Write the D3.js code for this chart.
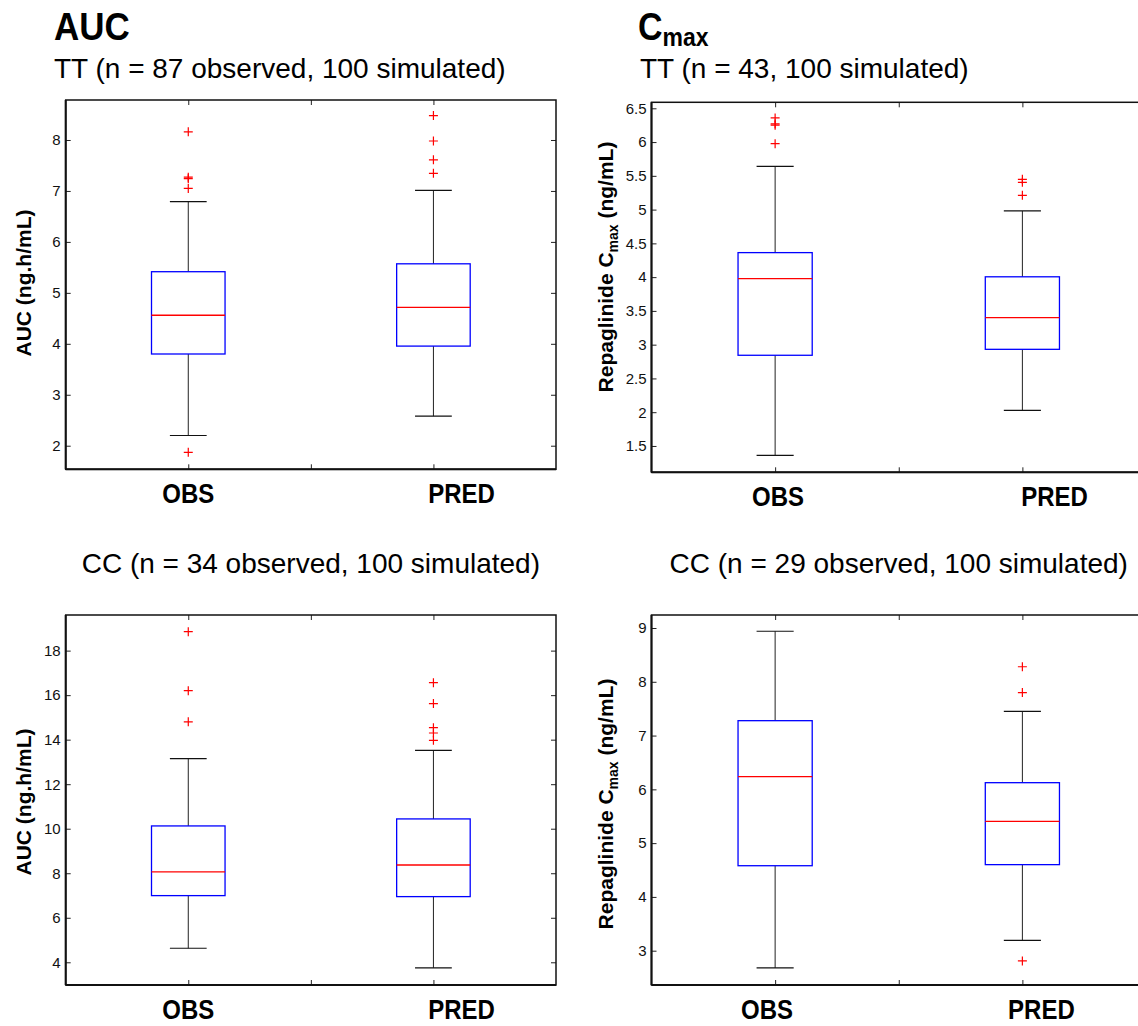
<!DOCTYPE html>
<html>
<head>
<meta charset="utf-8">
<script src="https://cdn.jsdelivr.net/npm/d3@7"></script>
<style>
  html, body { margin: 0; padding: 0; background: #fff; }
  svg { display: block; font-family: "Liberation Sans", Arial, Helvetica, sans-serif; }
</style>
</head>
<body>
<svg id="chart" width="1138" height="1026"></svg>
<script>
// ---------------- DATA ----------------
const categories = ["OBS", "PRED"];

// box statistics per category: [lower whisker, Q1, median, Q3, upper whisker]
const aucTTStats  = [[2.20, 3.80, 4.56, 5.415, 6.79], [2.58, 3.955, 4.715, 5.57, 7.01]];
const aucTTOut    = [[8.16, 7.27, 7.24, 7.05, 1.87], [8.48, 7.98, 7.61, 7.345]];
const aucTTTicks  = [2, 3, 4, 5, 6, 7, 8];

const cmaxTTStats = [[1.362, 2.843, 3.978, 4.363, 5.641], [2.028, 2.931, 3.40, 4.005, 4.98]];
const cmaxTTOut   = [[6.357, 6.27, 6.25, 5.977], [5.449, 5.404, 5.212]];
const cmaxTTTicks = [1.5, 2, 2.5, 3, 3.5, 4, 4.5, 5, 5.5, 6, 6.5];

const aucCCStats  = [[4.63, 6.995, 8.058, 10.125, 13.15], [3.75, 6.95, 8.37, 10.44, 13.52]];
const aucCCOut    = [[18.85, 16.20, 14.80], [16.56, 15.62, 14.54, 14.30, 13.97]];
const aucCCTicks  = [4, 6, 8, 10, 12, 14, 16, 18];

const cmaxCCStats = [[2.68, 4.58, 6.236, 7.277, 8.94], [3.19, 4.60, 5.405, 6.124, 7.45]];
const cmaxCCOut   = [[], [8.28, 7.80, 2.81]];
const cmaxCCTicks = [3, 4, 5, 6, 7, 8, 9];

const titleAUC = "AUC";
const subTTAuc  = "TT (n = 87 observed, 100 simulated)";
const subTTCmax = "TT (n = 43, 100 simulated)";
const subCCAuc  = "CC (n = 34 observed, 100 simulated)";
const subCCCmax = "CC (n = 29 observed, 100 simulated)";

// ---------------- LAYOUT ----------------
const svg = d3.select("#chart");
const FONT = '"Liberation Sans", Arial, Helvetica, sans-serif';

const panels = [
  { stats: aucTTStats, out: aucTTOut, ticks: aucTTTicks, yDomain: [1.537, 8.785],
    x0: 65.7, x1: 556, y0: 100, y1: 469.3, ylab: "auc", ylabX: 31, ylabY: 283,
    labPos: [1.0, 2.115], labBase: 503 },
  { stats: cmaxTTStats, out: cmaxTTOut, ticks: cmaxTTTicks, yDomain: [1.11, 6.589],
    x0: 651.5, x1: 1146, y0: 102.3, y1: 472.3, ylab: "cmax", ylabX: 613, ylabY: 267,
    labPos: [1.012, 2.13], labBase: 506 },
  { stats: aucCCStats, out: aucCCOut, ticks: aucCCTicks, yDomain: [2.98, 19.6],
    x0: 65.7, x1: 556, y0: 615, y1: 985, ylab: "auc", ylabX: 31, ylabY: 802,
    labPos: [1.0, 2.115], labBase: 1019 },
  { stats: cmaxCCStats, out: cmaxCCOut, ticks: cmaxCCTicks, yDomain: [2.362, 9.242],
    x0: 651.5, x1: 1146, y0: 615, y1: 985, ylab: "cmax", ylabX: 613, ylabY: 804,
    labPos: [0.967, 2.077], labBase: 1019 }
];

panels.forEach(p => {
  const x = d3.scaleLinear().domain([0.5, 2.5]).range([p.x0, p.x1]);
  const y = d3.scaleLinear().domain(p.yDomain).range([p.y1, p.y0]);
  const g = svg.append("g");

  // axes with inward ticks
  const yl = d3.axisLeft(y).tickValues(p.ticks).tickSize(-5).tickPadding(5).tickFormat(d => String(d));
  const yr = d3.axisRight(y).tickValues(p.ticks).tickSize(-5).tickFormat("");
  const xb = d3.axisBottom(x).tickValues([1, 1.5, 2]).tickSize(-5).tickFormat("");
  const xt = d3.axisTop(x).tickValues([1, 1.5, 2]).tickSize(-5).tickFormat("");

  const ga = g.append("g").attr("transform", `translate(${p.x0},0)`).call(yl);
  g.append("g").attr("transform", `translate(${p.x1},0)`).call(yr);
  g.append("g").attr("transform", `translate(0,${p.y1})`).call(xb);
  g.append("g").attr("transform", `translate(0,${p.y0})`).call(xt);
  g.selectAll(".domain").remove();
  g.selectAll(".tick line").attr("stroke", "#222").attr("stroke-width", 1);
  ga.selectAll(".tick text").attr("font-size", 15).attr("font-family", FONT).attr("fill", "#111");

  // frame
  g.append("rect").attr("x", p.x0).attr("y", p.y0).attr("width", p.x1 - p.x0).attr("height", p.y1 - p.y0)
    .attr("fill", "none").attr("stroke", "#111").attr("stroke-width", 1.5);
  g.append("line").attr("x1", p.x0).attr("x2", p.x1).attr("y1", p.y1).attr("y2", p.y1)
    .attr("stroke", "#111").attr("stroke-width", 2);
  g.append("line").attr("x1", p.x0).attr("x2", p.x0).attr("y1", p.y0).attr("y2", p.y1)
    .attr("stroke", "#111").attr("stroke-width", 2);

  const bw = x(1.15) - x(0.85);
  const cw = x(1.075) - x(0.925);

  p.stats.forEach((s, i) => {
    const cx = x(i + 1);
    const [lo, q1, med, q3, hi] = s;
    // whiskers
    g.append("line").attr("x1", cx).attr("x2", cx).attr("y1", y(q3)).attr("y2", y(hi))
      .attr("stroke", "#222").attr("stroke-width", 1);
    g.append("line").attr("x1", cx).attr("x2", cx).attr("y1", y(q1)).attr("y2", y(lo))
      .attr("stroke", "#222").attr("stroke-width", 1);
    g.append("line").attr("x1", cx - cw / 2).attr("x2", cx + cw / 2).attr("y1", y(hi)).attr("y2", y(hi))
      .attr("stroke", "#111").attr("stroke-width", 1.2);
    g.append("line").attr("x1", cx - cw / 2).attr("x2", cx + cw / 2).attr("y1", y(lo)).attr("y2", y(lo))
      .attr("stroke", "#111").attr("stroke-width", 1.2);
    // box
    g.append("rect").attr("x", cx - bw / 2).attr("y", y(q3)).attr("width", bw).attr("height", y(q1) - y(q3))
      .attr("fill", "none").attr("stroke", "#0000ff").attr("stroke-width", 1.3);
    // median
    g.append("line").attr("x1", cx - bw / 2).attr("x2", cx + bw / 2).attr("y1", y(med)).attr("y2", y(med))
      .attr("stroke", "#ff0000").attr("stroke-width", 1.3);
    // outliers
    p.out[i].forEach(v => {
      const yy = y(v), r = 4.5;
      g.append("path").attr("d", `M${cx - r},${yy}H${cx + r}M${cx},${yy - r}V${yy + r}`)
        .attr("stroke", "#ff0000").attr("stroke-width", 1.2).attr("fill", "none");
    });
  });

  // category labels
  categories.forEach((c, i) => {
    g.append("text")
      .attr("transform", `translate(${x(p.labPos[i])},${p.labBase}) scale(1,1.15)`)
      .attr("text-anchor", "middle").attr("font-size", 24).attr("font-weight", "bold")
      .attr("font-family", FONT).attr("fill", "#000").text(c);
  });

  // y label
  const t = g.append("text")
    .attr("transform", `translate(${p.ylabX},${p.ylabY}) rotate(-90)`)
    .attr("text-anchor", "middle").attr("font-size", 21).attr("font-weight", "bold")
    .attr("font-family", FONT).attr("fill", "#000");
  if (p.ylab === "auc") {
    t.text("AUC (ng.h/mL)");
  } else {
    t.append("tspan").text("Repaglinide C");
    t.append("tspan").attr("font-size", 14).attr("dy", 5).text("max");
    t.append("tspan").attr("dy", -5).text("\u00a0(ng/mL)");
  }
});

// ---------------- TITLES ----------------
svg.append("text").attr("transform", "translate(54,40) scale(1,1.12)").attr("font-size", 35).attr("font-weight", "bold")
  .attr("font-family", FONT).text(titleAUC);
const ct = svg.append("text").attr("transform", "translate(638,40) scale(1,1.12)").attr("font-size", 34).attr("font-weight", "bold")
  .attr("font-family", FONT);
ct.append("tspan").text("C");
ct.append("tspan").attr("font-size", 23).attr("dy", 5).text("max");

svg.append("text").attr("x", 54).attr("y", 78).attr("font-size", 28).attr("font-family", FONT).text(subTTAuc);
svg.append("text").attr("x", 640).attr("y", 78).attr("font-size", 28).attr("font-family", FONT).text(subTTCmax);
svg.append("text").attr("x", (65.7 + 556) / 2).attr("y", 573).attr("text-anchor", "middle")
  .attr("font-size", 28).attr("font-family", FONT).text(subCCAuc);
svg.append("text").attr("x", (651.5 + 1146) / 2).attr("y", 573).attr("text-anchor", "middle")
  .attr("font-size", 28).attr("font-family", FONT).text(subCCCmax);
</script>
</body>
</html>
